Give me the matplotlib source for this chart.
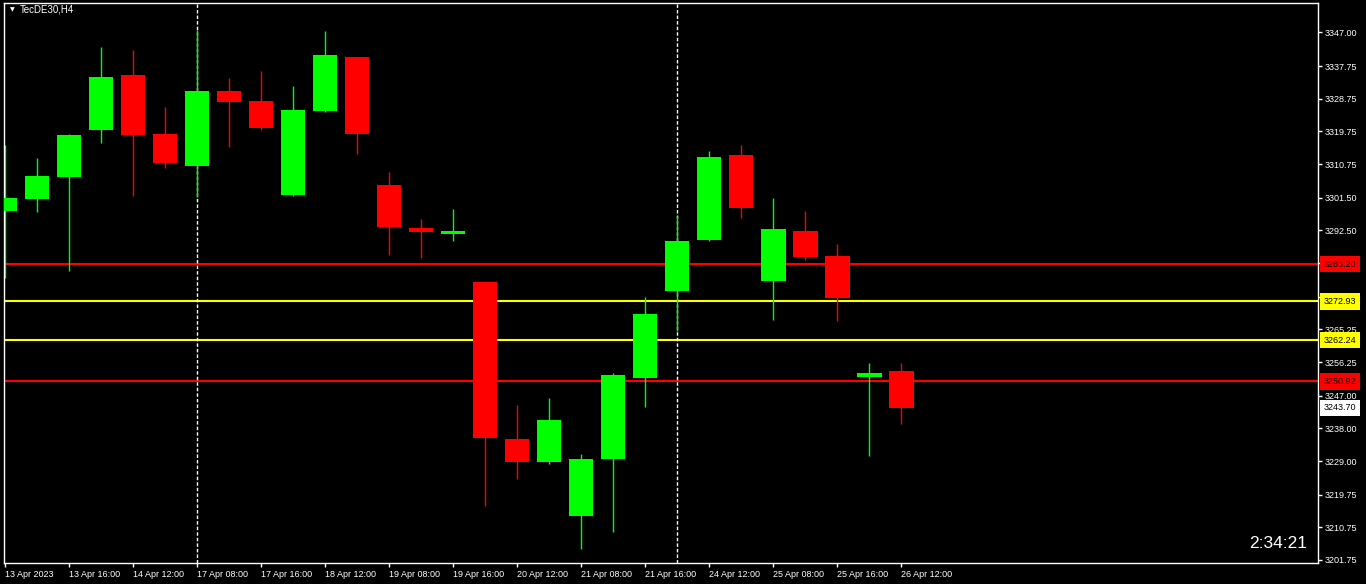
import matplotlib
matplotlib.use("Agg")
import matplotlib.pyplot as plt
import numpy as np

# H4 candles of TecDE30 (13 Apr 08:00 .. 26 Apr 12:00)
opens = [3297.84, 3301.06, 3307.11, 3320.04, 3335.17, 3318.94, 3310.14, 3330.77, 3328.02, 3302.16,
         3325.27, 3340.12, 3304.91, 3293.08, 3291.43, 3278.22, 3235.03, 3228.80, 3213.93, 3229.53,
         3251.82, 3275.75, 3289.78, 3313.16, 3278.50, 3292.26, 3285.38, 3252.09, 3253.74]
highs = [3315.91, 3312.34, 3318.90, 3342.87, 3342.05, 3326.37, 3347.55, 3334.35, 3336.27, 3332.14,
         3347.28, 3340.30, 3308.49, 3295.56, 3298.31, 3278.30, 3244.40, 3246.30, 3230.90, 3253.19,
         3274.10, 3296.38, 3314.26, 3315.91, 3301.33, 3297.76, 3288.68, 3255.94, 3255.94]
lows = [3279.41, 3297.48, 3281.25, 3316.46, 3301.88, 3309.59, 3301.61, 3315.36, 3320.04, 3302.00,
        3325.00, 3313.44, 3285.65, 3284.91, 3289.50, 3216.70, 3224.10, 3228.20, 3204.80, 3209.53,
        3243.92, 3264.75, 3289.70, 3295.83, 3267.77, 3284.28, 3267.50, 3230.36, 3239.16]
closes = [3301.33, 3307.39, 3318.66, 3334.62, 3318.66, 3310.96, 3330.77, 3327.74, 3320.59, 3325.54,
          3340.67, 3318.94, 3293.36, 3291.98, 3292.26, 3235.40, 3228.80, 3240.30, 3229.53, 3252.64,
          3269.42, 3289.50, 3312.61, 3298.58, 3292.81, 3285.10, 3273.82, 3253.19, 3243.70]

# time axis labels (every second bar)
time_labels = ["13 Apr 2023", "13 Apr 16:00", "14 Apr 12:00", "17 Apr 08:00", "17 Apr 16:00",
               "18 Apr 12:00", "19 Apr 08:00", "19 Apr 16:00", "20 Apr 12:00", "21 Apr 08:00",
               "21 Apr 16:00", "24 Apr 12:00", "25 Apr 08:00", "25 Apr 16:00", "26 Apr 12:00"]
separators = [6, 21]  # week start bars

# price scale labels
price_ticks = [3347.00, 3337.75, 3328.75, 3319.75, 3310.75, 3301.50, 3292.50, 3283.50, 3274.25,
               3265.25, 3256.25, 3247.00, 3238.00, 3229.00, 3219.75, 3210.75, 3201.75]

red_levels = [3283.20, 3250.92]
yellow_levels = [3272.93, 3262.24]
current_price = 3243.70

GREEN = "#00ff00"
RED = "#ff0000"
YELLOW = "#ffff00"
FONT = "Liberation Sans"

fig = plt.figure(figsize=(13.66, 5.84), dpi=100, facecolor="black")
ax = fig.add_axes([4 / 1366, 21 / 584, 1314 / 1366, 560 / 584], facecolor="black")

x = np.arange(len(opens))
o = np.array(opens)
c = np.array(closes)
up = c >= o
cols = [GREEN if u else RED for u in up]

# horizontal levels
for lv in red_levels:
    ax.axhline(lv, color=RED, lw=1.5, zorder=1)
for lv in yellow_levels:
    ax.axhline(lv, color=YELLOW, lw=1.5, zorder=1)

# period separators
for s in separators:
    ax.axvline(s, color="white", lw=1, ls=(0, (2.5, 1.5)), zorder=1)

# wicks and bodies
ax.vlines(x, lows, highs, colors=cols, lw=1, zorder=2)
ax.bar(x, np.abs(c - o), bottom=np.minimum(o, c), width=0.78, color=cols, zorder=3)

ax.set_xlim(-0.031, 41.03)
ax.set_ylim(3200.92, 3355.1)

# axes look
for sp in ax.spines.values():
    sp.set_color("white")
    sp.set_linewidth(1)

ax.set_xticks(np.arange(0, len(opens), 2))
ax.set_xticklabels(time_labels, ha="left", fontsize=6.5, family=FONT, color="white")
ax.tick_params(axis="x", colors="white", direction="out", length=3, width=1, pad=2)

ax.yaxis.tick_right()
ax.set_yticks(price_ticks)
ax.set_yticklabels([f"{p:.2f}" for p in price_ticks], fontsize=6.5, family=FONT, color="white")
ax.tick_params(axis="y", colors="white", direction="out", length=3, width=1, pad=2)

# level labels on the price scale (drawn over the scale labels)
box_x = 1 + 6 / 1314
levels = [(lv, RED) for lv in red_levels] + [(lv, YELLOW) for lv in yellow_levels] + [(current_price, "white")]
for lv, fc in levels:
    ax.text(box_x, lv, f"{lv:.2f}", transform=ax.get_yaxis_transform(), ha="left", va="center",
            fontsize=6.5, family=FONT, color="black", zorder=5, clip_on=False,
            bbox=dict(boxstyle="square,pad=0.4", fc=fc, ec="none"))

# symbol title and bar timer
ax.text(8 / 1314, 553 / 560, "\u25bc", transform=ax.transAxes, fontsize=4.5, color="white",
        ha="center", va="center")
ax.text(16 / 1314, 553 / 560, "TecDE30,H4", transform=ax.transAxes, fontsize=7, family=FONT,
        color="white", ha="left", va="center")
ax.text(1303 / 1314, 19 / 560, "2:34:21", transform=ax.transAxes, fontsize=12.5, family=FONT,
        color="white", ha="right", va="center")

plt.savefig("out.png", dpi=100, facecolor="black")
plt.close()
